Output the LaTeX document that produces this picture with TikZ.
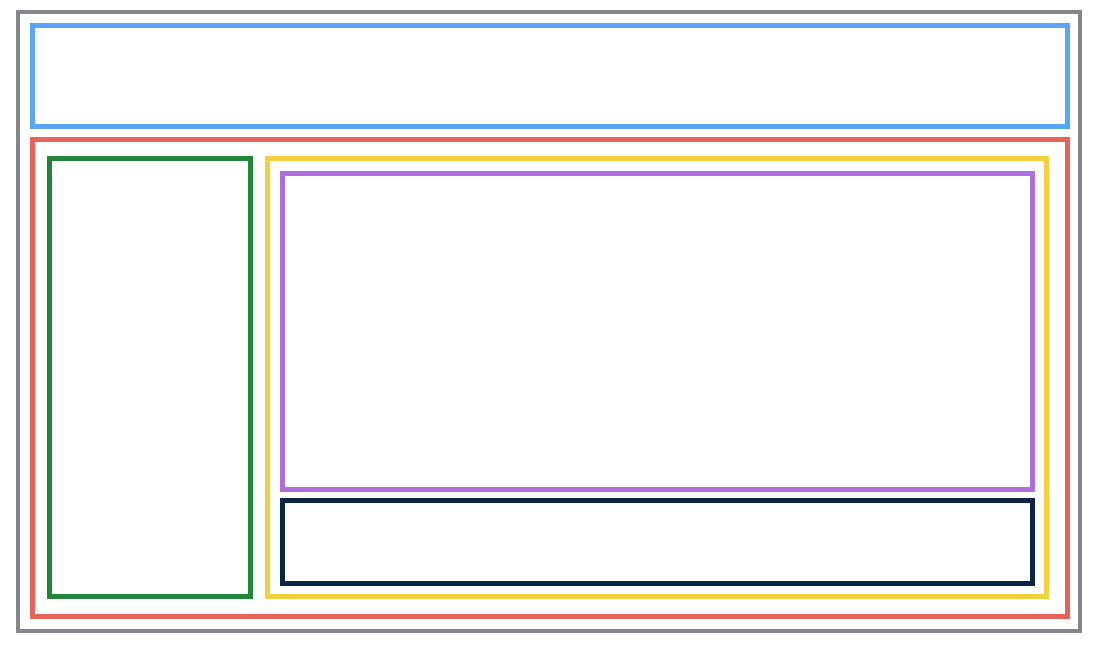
\documentclass[tikz,border=0pt]{standalone}
\usetikzlibrary{positioning}
\definecolor{framegray}{HTML}{85858C}
\definecolor{headblue}{HTML}{5AA5F7}
\definecolor{bodyred}{HTML}{E6635A}
\definecolor{sidegreen}{HTML}{22863A}
\definecolor{mainyellow}{HTML}{F4D03F}
\definecolor{viewpurple}{HTML}{AD6FE0}
\definecolor{footnavy}{HTML}{0B2447}

\tikzset{
  panel/.style={draw=#1,line width=5pt,rectangle,inner sep=0pt,outer sep=0pt}
}

\begin{document}
\begin{tikzpicture}[x=1pt,y=-1pt]
        \useasboundingbox (0,0) rectangle (1101,646);
        \node[panel=framegray,line width=3.5pt,minimum width=1062pt,minimum height=619pt] (page) at (549,321.5) {};
        \node[panel=headblue,minimum width=1035pt,minimum height=101pt] (header) at (549.5,75.5) {};
        \node[panel=bodyred,minimum width=1035pt,minimum height=477pt] (body) at (549.5,377.5) {};
        \node[panel=sidegreen,minimum width=201pt,minimum height=438pt] (sidebar) at (149.5,377) {};
        \node[panel=mainyellow,minimum width=779pt,minimum height=438pt] (main) at (656.5,377) {};
        \node[panel=viewpurple,minimum width=750pt,minimum height=316pt] (content) at (657,331) {};
        \node[panel=footnavy,minimum width=750pt,minimum height=83pt] (footer) at (657,541.5) {};
      \end{tikzpicture}
\end{document}
